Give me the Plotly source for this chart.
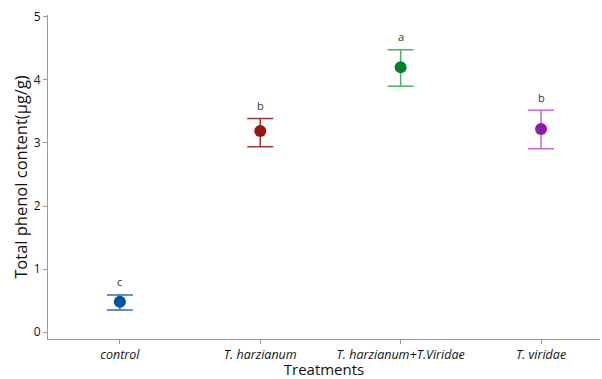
import plotly.graph_objects as go

treatments = ["control", "T. harzianum", "T. harzianum+T.Viridae", "T. viridae"]
means = [0.48, 3.19, 4.20, 3.22]
upper = [0.59, 3.39, 4.48, 3.52]
lower = [0.35, 2.94, 3.90, 2.91]
letters = ["c", "b", "a", "b"]
marker_colors = ["#0052A5", "#9A1515", "#00822A", "#8E17B8"]
bar_colors = ["#2F6DB8", "#A83333", "#4DAF6A", "#BE6CDA"]

fig = go.Figure()
for i, t in enumerate(treatments):
    fig.add_trace(go.Scatter(
        x=[i], y=[means[i]], mode="markers",
        marker=dict(color=marker_colors[i], size=12),
        error_y=dict(type="data", symmetric=False,
                     array=[upper[i] - means[i]], arrayminus=[means[i] - lower[i]],
                     color=bar_colors[i], thickness=1.5, width=13),
        showlegend=False,
    ))
    fig.add_annotation(x=i, y=upper[i], text=letters[i], showarrow=False,
                       yshift=13, font=dict(size=11, color="#333333"))

fig.update_layout(
    width=602, height=379,
    margin=dict(l=48, r=2, t=15, b=40),
    plot_bgcolor="white", paper_bgcolor="white",
    font=dict(family="Open Sans, Noto Sans, sans-serif", color="#111111"),
    xaxis=dict(
        range=[-0.512, 3.42], tickmode="array", tickvals=list(range(len(treatments))),
        ticktext=[f"<i>{t}</i>" for t in treatments],
        showline=True, linecolor="#9A9A9A", linewidth=1, ticks="outside",
        ticklen=4, tickcolor="#9A9A9A", showgrid=False, zeroline=False,
        tickfont=dict(size=12.5, color="#111111"),
        title=dict(text="Treatments", font=dict(size=15, color="#111111"), standoff=2),
    ),
    yaxis=dict(
        range=[-0.11, 5.03], tickvals=[0, 1, 2, 3, 4, 5],
        showline=True, linecolor="#9A9A9A", linewidth=1, ticks="outside",
        ticklen=4, tickcolor="#9A9A9A", showgrid=False, zeroline=False,
        tickfont=dict(size=12, color="#111111"),
        title=dict(text="Total phenol content(μg/g)", font=dict(size=16.5, color="#111111"), standoff=1),
    ),
)

fig.write_html("out.html")
